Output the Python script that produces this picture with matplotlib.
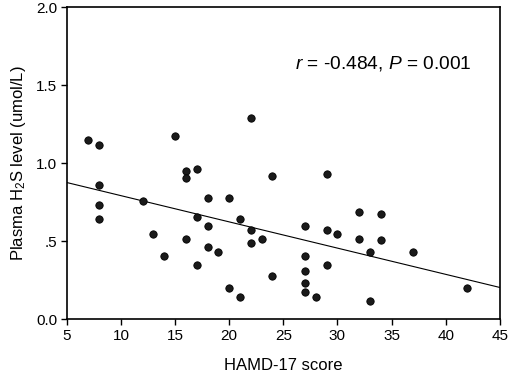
import numpy as np
import matplotlib

matplotlib.use("Agg")
import matplotlib.pyplot as plt

plt.rcParams["font.family"] = ["Liberation Sans", "DejaVu Sans"]
plt.rcParams["mathtext.fontset"] = "custom"
plt.rcParams["mathtext.rm"] = "Liberation Sans"
plt.rcParams["mathtext.it"] = "Liberation Sans:italic"

# HAMD-17 score vs plasma H2S level
hamd = [7, 8, 8, 8, 8, 12, 13, 14, 15, 16, 16, 16, 17, 17, 17, 18, 18, 18,
        19, 20, 20, 21, 21, 22, 22, 22, 23, 24, 24, 27, 27, 27, 27, 27, 28,
        29, 29, 29, 30, 32, 32, 33, 33, 34, 34, 37, 42]
h2s = [1.15, 1.117, 0.859, 0.731, 0.645, 0.758, 0.545, 0.404, 1.175, 0.951,
       0.902, 0.515, 0.960, 0.652, 0.344, 0.774, 0.60, 0.46, 0.431, 0.774,
       0.201, 0.645, 0.143, 1.288, 0.573, 0.487, 0.515, 0.917, 0.274, 0.60,
       0.404, 0.31, 0.229, 0.171, 0.143, 0.932, 0.573, 0.344, 0.545, 0.686,
       0.515, 0.431, 0.115, 0.673, 0.508, 0.431, 0.201]

x_ticks = [5, 10, 15, 20, 25, 30, 35, 40, 45]
y_ticks = [0.0, 0.5, 1.0, 1.5, 2.0]
y_tick_labels = ["0.0", ".5", "1.0", "1.5", "2.0"]

fig = plt.figure(figsize=(5.1, 3.75), dpi=100)
ax = fig.add_axes([0.131, 0.149, 0.849, 0.832])

ax.scatter(hamd, h2s, s=28, color="#1a1a1a", edgecolors="black",
           linewidths=0.6, zorder=3)

# least-squares fit line across the full x range
slope, intercept = np.polyfit(hamd, h2s, 1)
xs = np.array([5, 45])
ax.plot(xs, slope * xs + intercept, color="black", linewidth=0.8, zorder=2)

ax.set_xlim(5, 45)
ax.set_ylim(0, 2.0)
ax.set_xticks(x_ticks)
ax.set_yticks(y_ticks)
ax.set_yticklabels(y_tick_labels)
ax.tick_params(direction="out", length=4, width=1, labelsize=11, pad=3)
for sp in ax.spines.values():
    sp.set_linewidth(1.2)

ax.set_xlabel("HAMD-17 score", fontsize=12, labelpad=11)
ax.set_ylabel("Plasma H$_2$S level (umol/L)", fontsize=12, labelpad=6)

ax.text(42.4, 1.64, "$r$ = -0.484, $P$ = 0.001", fontsize=13.8,
        ha="right", va="center")

fig.savefig("out.png", dpi=100)
